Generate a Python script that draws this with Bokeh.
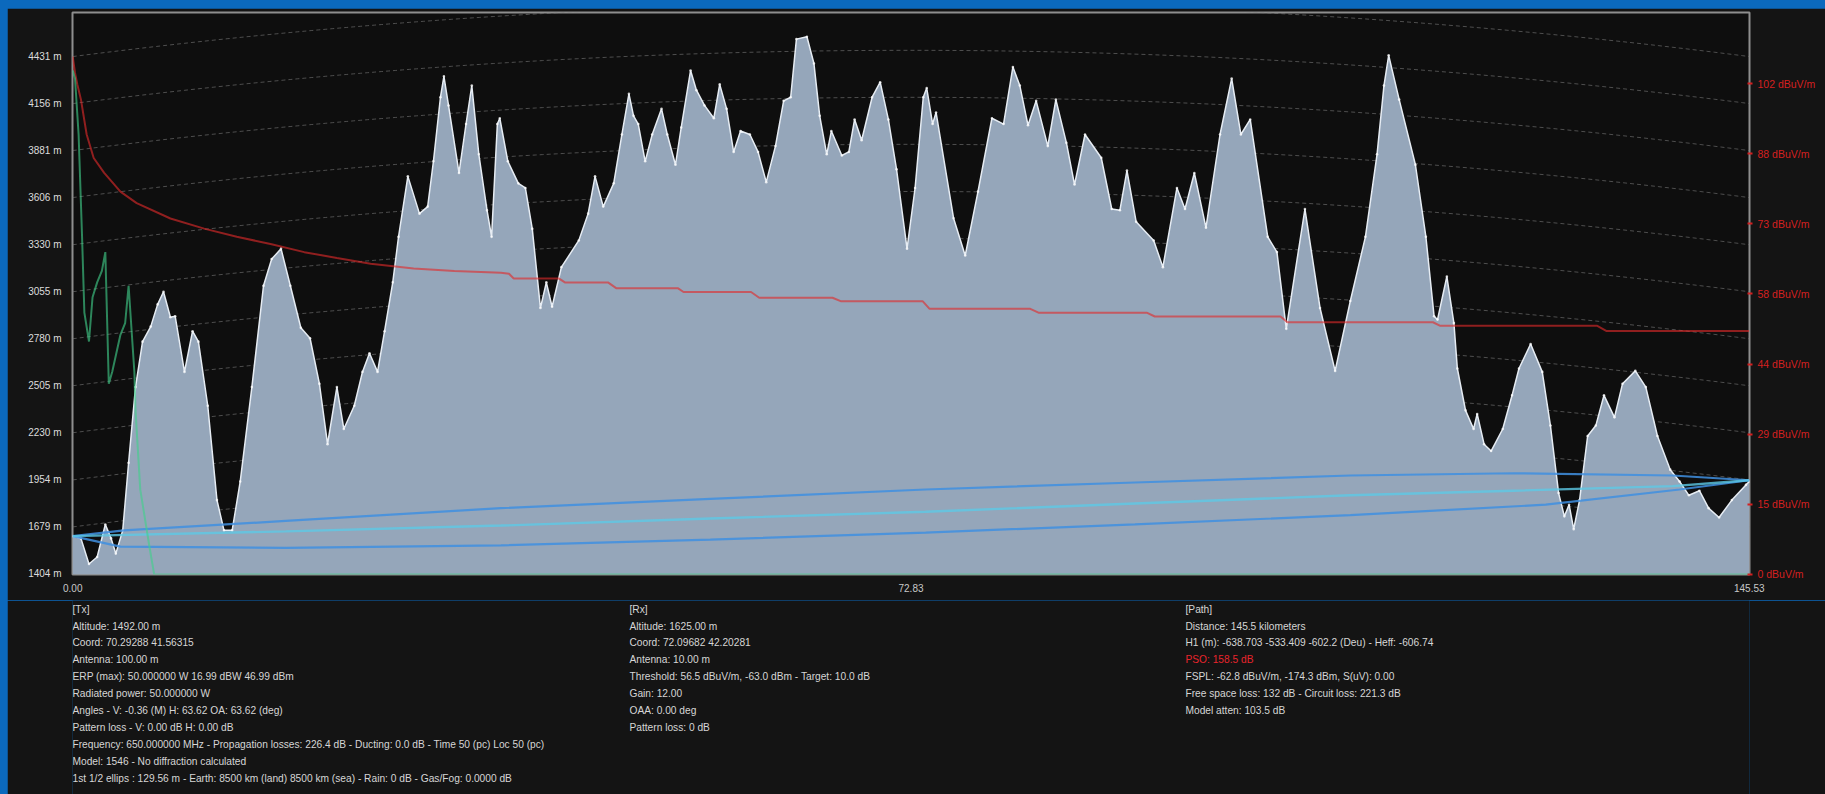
import numpy as np
from bokeh.plotting import figure
from bokeh.models import Range1d, LinearAxis, FixedTicker, CustomJSTickFormatter
from bokeh.layouts import column
from bokeh.embed import file_html
from bokeh.resources import INLINE
from bokeh.core.properties import value

FONT = "Liberation Sans"

# ---------------- data ----------------
path_length_km = 145.53
earth_radius_km = 8500.0

terrain_km = [0.00, 0.71, 1.41, 2.12, 2.83, 3.33, 3.74, 4.34, 4.85, 5.45,
              6.06, 6.77, 7.37, 7.88, 8.48, 8.89, 9.70, 10.40, 10.91, 11.72,
              12.52, 13.13, 13.84, 14.54, 15.55, 16.56, 17.27, 18.08, 18.89, 19.80,
              20.60, 21.41, 22.12, 22.93, 23.53, 24.44, 25.15, 25.76, 26.46, 27.07,
              27.78, 28.28, 29.09, 30.10, 30.81, 31.31, 31.92, 32.22, 32.62, 33.53,
              34.14, 34.64, 35.25, 35.96, 36.36, 36.86, 37.07, 37.77, 38.68, 39.29,
              39.89, 40.60, 41.11, 41.61, 42.42, 43.93, 44.74, 45.34, 46.05, 46.96,
              47.67, 48.28, 48.68, 49.09, 49.69, 50.30, 51.11, 51.61, 52.32, 52.82,
              53.63, 54.14, 54.84, 55.65, 56.16, 56.76, 57.37, 57.97, 58.78, 59.49,
              60.20, 61.00, 61.71, 62.32, 62.82, 63.73, 64.34, 64.84, 65.45, 65.85,
              66.76, 67.37, 67.87, 68.48, 69.39, 70.09, 70.80, 71.51, 72.42, 73.12,
              73.83, 74.13, 74.64, 74.94, 76.46, 77.47, 78.58, 79.79, 80.80, 81.61,
              82.21, 82.92, 83.63, 84.64, 85.34, 86.25, 86.96, 87.87, 89.28, 90.19,
              90.90, 91.51, 92.31, 93.83, 94.63, 95.85, 96.55, 97.36, 98.37, 99.59,
              100.60, 101.40, 102.21, 103.73, 104.53, 105.34, 106.96, 108.27, 109.58, 110.90,
              112.21, 113.22, 113.82, 114.23, 115.14, 116.55, 117.46, 118.17, 118.47, 119.28,
              119.89, 120.19, 120.90, 121.60, 121.91, 122.51, 123.12, 124.13, 124.94, 125.54,
              126.55, 127.56, 128.27, 128.98, 129.48, 129.89, 130.29, 130.80, 131.50, 132.21,
              132.92, 133.83, 134.53, 135.64, 136.55, 137.56, 138.67, 139.48, 140.29, 141.20,
              142.00, 142.91, 144.02, 145.24, 145.53]

terrain_m = [1625, 1612, 1462, 1503, 1693, 1612, 1523, 1659, 2054, 2497,
             2763, 2851, 2981, 3055, 2906, 2912, 2586, 2824, 2763, 2388,
             1836, 1659, 1659, 1945, 2497, 3090, 3246, 3307, 3090, 2844,
             2783, 2517, 2163, 2497, 2252, 2388, 2586, 2695, 2586, 2824,
             3110, 3376, 3730, 3512, 3553, 3818, 4193, 4315, 4145, 3750,
             4036, 4261, 3859, 3532, 3376, 4036, 4070, 3818, 3689, 3662,
             3423, 2960, 3110, 2967, 3199, 3355, 3512, 3730, 3553, 3689,
             3975, 4213, 4084, 4036, 3818, 3975, 4125, 3975, 3798, 4016,
             4349, 4234, 4145, 4070, 4268, 4125, 3873, 3995, 3975, 3873,
             3696, 3907, 4172, 4193, 4533, 4547, 4390, 4084, 3859, 3995,
             3852, 3873, 4063, 3941, 4193, 4281, 4063, 3771, 3307, 3662,
             4193, 4247, 4036, 4104, 3485, 3267, 3641, 4070, 4036, 4370,
             4261, 4029, 4172, 3907, 4179, 3927, 3682, 3975, 3839, 3539,
             3532, 3764, 3464, 3355, 3199, 3662, 3539, 3750, 3430, 3975,
             4302, 3975, 4063, 3376, 3287, 2838, 3539, 2960, 2592, 3001,
             3376, 3859, 4261, 4438, 4179, 3798, 3376, 2912, 2892, 3144,
             2872, 2606, 2361, 2252, 2340, 2163, 2123, 2252, 2449, 2606,
             2749, 2586, 2272, 1877, 1741, 1809, 1666, 1836, 2211, 2272,
             2449, 2320, 2517, 2592, 2497, 2211, 2014, 1945, 1864, 1891,
             1789, 1734, 1836, 1925, 1945]

field_km = [0.00, 0.20, 0.40, 0.71, 1.21, 1.82, 2.73, 4.14, 5.55, 8.48,
            11.41, 14.24, 17.17, 20.10, 22.93, 25.86, 29.59, 33.13, 37.17, 37.87,
            38.28, 42.22, 42.72, 46.46, 47.17, 52.52, 53.02, 58.88, 59.59, 65.95,
            66.66, 73.77, 74.38, 83.12, 83.83, 93.22, 93.93, 104.84, 105.44, 118.07,
            118.67, 132.30, 133.11, 145.53]
field_db = [107.8, 104.4, 102.0, 98.9, 91.6, 86.7, 83.6, 79.7, 77.3, 74.1,
            72.0, 70.3, 68.8, 67.1, 65.9, 64.7, 63.7, 63.2, 62.8, 62.6,
            61.6, 61.6, 60.8, 60.8, 59.6, 59.6, 58.8, 58.8, 57.6, 57.6,
            56.9, 56.9, 55.3, 55.3, 54.5, 54.5, 53.7, 53.7, 52.5, 52.5,
            51.8, 51.8, 50.7, 50.7]

green_km = [0.00, 0.20, 0.51, 0.81, 1.01, 1.41, 1.72, 2.12, 2.53, 2.83,
            3.13, 3.43, 4.14, 4.55, 4.85, 5.35, 5.45, 5.86, 6.67, 7.07, 145.53]
green_db = [104.9, 103.2, 91.6, 70.3, 54.5, 48.5, 57.7, 60.8, 63.2, 67.1,
            39.7, 42.2, 49.9, 52.3, 60.1, 42.2, 34.2, 17.7, 5.6, 0.0, 0.0]

fresnel_upper_km = [0.00, 4.44, 18.48, 37.17, 55.35, 74.03, 92.21, 110.90, 125.04, 138.88, 145.53]
fresnel_upper_m = [1625, 1659, 1714, 1789, 1843, 1898, 1939, 1980, 1993, 1980, 1952]
los_km = [0.00, 18.48, 37.17, 55.35, 74.03, 92.21, 110.90, 125.04, 138.88, 145.53]
los_m = [1625, 1653, 1687, 1728, 1768, 1816, 1864, 1891, 1918, 1952]
fresnel_lower_km = [0.00, 4.14, 18.48, 37.17, 55.35, 74.03, 92.21, 110.90, 127.86, 139.48, 145.53]
fresnel_lower_m = [1625, 1564, 1557, 1571, 1605, 1646, 1694, 1748, 1809, 1898, 1952]

height_ticks = [1404, 1679, 1954, 2230, 2505, 2780, 3055, 3330, 3606, 3881, 4156, 4431]
field_ticks = [0, 14.6, 29.2, 43.8, 58.4, 73.0, 87.6, 102.2]
field_tick_labels = ["0 dBuV/m", "15 dBuV/m", "29 dBuV/m", "44 dBuV/m",
                     "58 dBuV/m", "73 dBuV/m", "88 dBuV/m", "102 dBuV/m"]
dist_ticks = [0.0, 72.765, 145.53]
dist_tick_labels = ["0.00", "72.83", "145.53"]

tx_lines = ["[Tx]",
            "Altitude: 1492.00 m",
            "Coord: 70.29288 41.56315",
            "Antenna: 100.00 m",
            "ERP (max): 50.000000 W 16.99 dBW 46.99 dBm",
            "Radiated power: 50.000000 W",
            "Angles - V: -0.36 (M) H: 63.62 OA: 63.62 (deg)",
            "Pattern loss - V: 0.00 dB H: 0.00 dB",
            "Frequency: 650.000000 MHz - Propagation losses: 226.4 dB - Ducting: 0.0 dB - Time 50 (pc) Loc 50 (pc)",
            "Model: 1546 - No diffraction calculated",
            "1st 1/2 ellips : 129.56 m - Earth: 8500 km (land) 8500 km (sea) - Rain: 0 dB - Gas/Fog: 0.0000 dB"]
rx_lines = ["[Rx]",
            "Altitude: 1625.00 m",
            "Coord: 72.09682 42.20281",
            "Antenna: 10.00 m",
            "Threshold: 56.5 dBuV/m, -63.0 dBm - Target: 10.0 dB",
            "Gain: 12.00",
            "OAA: 0.00 deg",
            "Pattern loss: 0 dB"]
path_lines = ["[Path]",
              "Distance: 145.5 kilometers",
              "H1 (m): -638.703 -533.409 -602.2 (Deu) - Heff: -606.74",
              "PSO: 158.5 dB",
              "FSPL: -62.8 dBuV/m, -174.3 dBm, S(uV): 0.00",
              "Free space loss: 132 dB - Circuit loss: 221.3 dB",
              "Model atten: 103.5 dB"]

# ---------------- chart ----------------
PANEL = "#141414"
Y0, Y1 = 1400.7, 4688.7
p = figure(width=1818, height=592,
           x_range=Range1d(-0.02, 145.55), y_range=Range1d(Y0, Y1),
           output_backend="svg", toolbar_location=None,
           min_border_left=65, min_border_right=76, min_border_top=4, min_border_bottom=26,
           background_fill_color="#0e0e0e", border_fill_color=PANEL,
           outline_line_color="#8e8e8e", outline_line_width=2)
p.extra_y_ranges = {"field": Range1d(-0.02, 117.0)}
p.grid.visible = False

nearest_js = """
let k = 0; let best = 1e12;
for (let i = 0; i < vals.length; i++) { const d = Math.abs(vals[i] - tick); if (d < best) { best = d; k = i; } }
return labels[k];
"""

ya = p.yaxis[0]
ya.ticker = FixedTicker(ticks=height_ticks)
ya.formatter = CustomJSTickFormatter(code="return Math.round(tick) + ' m';")
ya.axis_line_color = None
ya.major_tick_in = 0
ya.major_tick_out = 0
ya.minor_tick_line_color = None
ya.major_label_standoff = 11
ya.major_label_text_color = "#dcdcdc"
ya.major_label_text_font = FONT
ya.major_label_text_font_size = "10px"

xa = p.xaxis[0]
xa.ticker = FixedTicker(ticks=dist_ticks)
xa.formatter = CustomJSTickFormatter(args=dict(vals=dist_ticks, labels=dist_tick_labels), code=nearest_js)
xa.axis_line_color = None
xa.major_tick_in = 0
xa.major_tick_out = 0
xa.minor_tick_line_color = None
xa.major_label_standoff = 9
xa.major_label_text_color = "#c8c8c8"
xa.major_label_text_font = FONT
xa.major_label_text_font_size = "10px"

ra = LinearAxis(y_range_name="field",
                ticker=FixedTicker(ticks=field_ticks),
                formatter=CustomJSTickFormatter(args=dict(vals=field_ticks, labels=field_tick_labels),
                                                code=nearest_js))
ra.axis_line_color = None
ra.major_tick_in = 2
ra.major_tick_out = 3
ra.major_tick_line_color = "#d42020"
ra.major_tick_line_width = 2
ra.minor_tick_line_color = None
ra.major_label_standoff = 5
ra.major_label_text_color = "#d42020"
ra.major_label_text_font = FONT
ra.major_label_text_font_size = "10.5px"
p.add_layout(ra, "right")

# curved earth grid lines
gx = np.linspace(0, path_length_km, 240)
bulge_m = gx * (path_length_km - gx) / (2 * earth_radius_km) * 1000.0
p.multi_line(xs=[list(gx)] * len(height_ticks),
             ys=[list(h + bulge_m) for h in height_ticks],
             line_color="#7a7a7a", line_alpha=0.6, line_width=1, line_dash="4 3")

# terrain
p.varea(x=terrain_km, y1=[Y0] * len(terrain_km), y2=terrain_m, fill_color="#95a6ba")
p.line(terrain_km, terrain_m, line_color="#e6ecf3", line_width=1.5)
p.scatter(terrain_km, terrain_m, size=2.6, fill_color="#ffffff", line_color=None, fill_alpha=0.75)

# Fresnel ellipse and line of sight
p.line(fresnel_upper_km, fresnel_upper_m, line_color="#3f8fe0", line_width=2.2, line_alpha=0.85)
p.line(fresnel_lower_km, fresnel_lower_m, line_color="#3f8fe0", line_width=2.2, line_alpha=0.85)
p.line(los_km, los_m, line_color="#5cc9e6", line_width=2.4, line_alpha=0.8)

# field strength curves
p.line(field_km, field_db, y_range_name="field", line_color="#e02a2a", line_width=2, line_alpha=0.62)
p.line(green_km, green_db, y_range_name="field", line_color="#40d08a", line_width=2, line_alpha=0.62)

# ---------------- info panel (frame aligned with the chart frame) ----------------
FL, FR = 72, 1749          # page x of the frame edges
OY, PH = 600, 194          # page y of the panel top, panel height
p2 = figure(width=1818, height=PH,
            x_range=Range1d(FL, FR), y_range=Range1d(OY + PH, OY),
            output_backend="svg", toolbar_location=None,
            x_axis_location=None, y_axis_location=None,
            min_border_left=65, min_border_right=76, min_border_top=0, min_border_bottom=0,
            background_fill_color=PANEL, border_fill_color=PANEL,
            outline_line_color=None)
p2.grid.visible = False

col_x = [72, 629, 1185]
line_y0, line_dy = 608.7, 16.88
tx, ty, tt, tc = [], [], [], []
for cx, lines in zip(col_x, [tx_lines, rx_lines, path_lines]):
    for i, s in enumerate(lines):
        tx.append(cx)
        ty.append(line_y0 + i * line_dy)
        tt.append(s)
        tc.append("#e8242c" if s.startswith("PSO") else "#d6d6d6")
p2.text(x=tx, y=ty, text=tt, text_color=tc, text_font=value(FONT), text_font_size="10.2px",
        text_align="left", text_baseline="middle")

layout = column(p, p2, spacing=0)
html = file_html(layout, INLINE, "Profile")
head_end = html.find("</head>")
bi = html.find("<body", head_end)
bj = html.find(">", bi)
html = (html[:head_end]
        + "<style>html{background:#0b69bd;}</style>"
        + html[head_end:bi]
        + '<body style="margin:0;padding:8px 0 0 7px;background:#0b69bd;overflow:hidden;">'
        + html[bj + 1:])
open("out.html", "w").write(html)
